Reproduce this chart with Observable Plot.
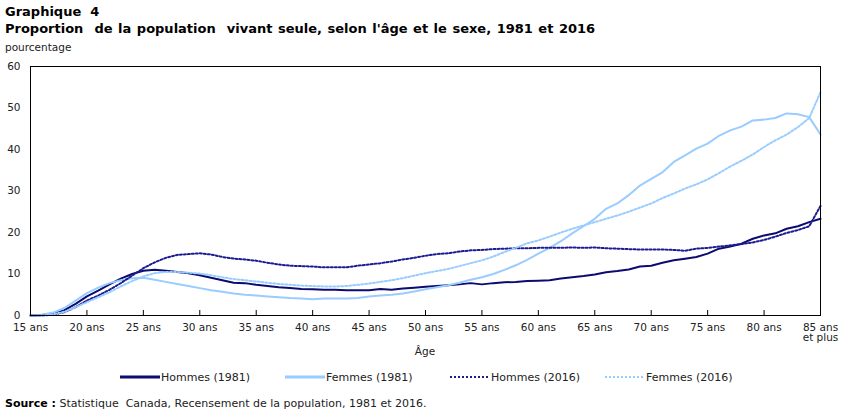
<!DOCTYPE html>
<html><head><meta charset="utf-8">
<script src="https://cdn.jsdelivr.net/npm/d3@7"></script>
<script src="https://cdn.jsdelivr.net/npm/@observablehq/plot@0.6"></script>
<style>
body{margin:0;background:#fff;font-family:"DejaVu Sans",Verdana,sans-serif;color:#000;}
#wrap{position:relative;width:850px;height:416px;overflow:hidden;background:#fff;}
.abs{position:absolute;white-space:nowrap;}
#chart{position:absolute;left:0;top:54px;}
.leg{position:absolute;top:370px;font-size:11px;color:#222;display:flex;align-items:center;white-space:nowrap;}
.leg svg{margin-right:1px;}
</style></head><body>
<div id="wrap">
  <div class="abs" style="left:5px;top:4px;font-weight:bold;font-size:13px;">Graphique&nbsp; 4</div>
  <div class="abs" style="left:5px;top:21px;font-weight:bold;font-size:13px;word-spacing:1px;">Proportion&nbsp; de la population&nbsp; vivant seule, selon l'âge et le sexe, 1981 et 2016</div>
  <div class="abs" style="left:5px;top:41px;font-size:10.5px;color:#222;">pourcentage</div>
  <div id="chart"></div>
  <div class="abs" style="left:0;width:850px;top:345px;text-align:center;font-size:10.5px;color:#222;">Âge</div>
  <div id="legend"></div>
  <div class="abs" style="left:5px;top:397px;font-size:11px;color:#222;"><b style="color:#000">Source&nbsp;:</b> Statistique&nbsp; Canada, Recensement de la population, 1981 et 2016.</div>
</div>
<script>
const ages = [15,16,17,18,19,20,21,22,23,24,25,26,27,28,29,30,31,32,33,34,35,36,37,38,39,40,41,42,43,44,45,46,47,48,49,50,51,52,53,54,55,56,57,58,59,60,61,62,63,64,65,66,67,68,69,70,71,72,73,74,75,76,77,78,79,80,81,82,83,84,85];

const hommes1981 = [0,0.1,0.4,1.3,2.8,4.6,6.0,7.5,8.9,10.0,10.8,11.0,10.8,10.5,10.2,9.7,9.1,8.5,7.9,7.8,7.4,7.1,6.8,6.6,6.4,6.3,6.2,6.2,6.1,6.1,6.1,6.4,6.2,6.5,6.7,6.9,7.1,7.3,7.5,7.8,7.5,7.8,8.0,8.1,8.3,8.4,8.5,8.9,9.2,9.5,9.9,10.4,10.7,11.1,11.8,12.0,12.7,13.3,13.7,14.1,14.9,16.1,16.6,17.3,18.5,19.3,19.8,20.9,21.5,22.5,23.3];

const femmes1981 = [0,0.2,0.7,1.8,3.6,5.4,6.7,7.8,8.5,9.0,9.1,8.6,8.1,7.6,7.1,6.6,6.1,5.7,5.3,5.0,4.8,4.6,4.4,4.2,4.1,3.9,4.1,4.1,4.1,4.2,4.6,4.8,5.0,5.3,5.8,6.3,6.8,7.3,7.9,8.6,9.2,10.0,11.0,12.1,13.4,14.9,16.3,17.9,19.8,21.5,23.3,25.7,27.0,29.0,31.3,32.9,34.5,37.0,38.6,40.2,41.4,43.3,44.6,45.5,47.0,47.2,47.6,48.7,48.5,47.8,43.6];

const hommes2016 = [0,0,0.2,0.8,2.0,3.6,4.8,6.2,7.8,9.6,11.4,12.8,13.9,14.6,14.8,15.0,14.7,14.1,13.7,13.5,13.2,12.7,12.3,12.0,11.9,11.8,11.6,11.6,11.6,12.0,12.3,12.6,13.0,13.5,13.9,14.4,14.8,15.0,15.4,15.7,15.8,16.0,16.1,16.2,16.2,16.3,16.3,16.3,16.4,16.3,16.4,16.2,16.1,16.0,15.9,15.9,15.9,15.8,15.6,16.1,16.3,16.6,16.9,17.2,17.6,18.2,19.0,19.9,20.6,21.5,26.4];

const femmes2016 = [0,0,0.3,0.9,2.0,3.2,4.4,5.6,7.0,8.3,9.4,10.2,10.5,10.5,10.3,10.1,9.7,9.2,8.8,8.5,8.2,7.9,7.6,7.4,7.2,7.1,7.0,7.0,7.1,7.4,7.7,8.1,8.5,9.0,9.6,10.2,10.7,11.2,11.9,12.6,13.3,14.2,15.3,16.3,17.4,18.1,19.0,20.0,20.9,21.7,22.5,23.3,24.1,25.0,26.0,27.0,28.3,29.4,30.6,31.6,32.8,34.3,35.9,37.3,38.8,40.6,42.2,43.6,45.4,47.6,53.8];

const seriesNames = ["Hommes (1981)", "Femmes (1981)", "Hommes (2016)", "Femmes (2016)"];
const xTickAges = [15,20,25,30,35,40,45,50,55,60,65,70,75,80,85];
const xTickLabels = ["15 ans","20 ans","25 ans","30 ans","35 ans","40 ans","45 ans","50 ans","55 ans","60 ans","65 ans","70 ans","75 ans","80 ans","85 ans\net plus"];
const yTicks = [0,10,20,30,40,50,60];

const styles = [
  {stroke:"#0b0b70", dash:null, width:2, legW:3},
  {stroke:"#99ccff", dash:null, width:2, legW:3},
  {stroke:"#1c1c92", dash:"2,2", width:2, legW:2},
  {stroke:"#99ccff", dash:"2,2", width:2, legW:2}
];
const allValues = [hommes1981, femmes1981, hommes2016, femmes2016];
const tables = allValues.map((vals, k) => ages.map((a, i) => ({age: a, value: vals[i], series: seriesNames[k]})));

const H = 310, MT = 12, MB = 49;
const chart = Plot.plot({
  width: 850, height: H,
  marginTop: MT, marginBottom: MB, marginLeft: 30, marginRight: 30,
  style: {fontFamily: "'DejaVu Sans', Verdana, sans-serif", fontSize: "10.5px", color: "#222", background: "white", overflow: "visible"},
  x: {domain: [15, 85], label: null},
  y: {domain: [0, 60], label: null},
  marks: [
    Plot.axisX({ticks: xTickAges, tickFormat: d => xTickLabels[xTickAges.indexOf(d)], tickSize: 0, tickPadding: 8, label: null}),
    Plot.axisY({ticks: yTicks, tickSize: 0, tickPadding: 10, label: null}),
    Plot.tickX(xTickAges, {x: d => d, stroke: "#000", insetTop: H - MT - MB - 5}),
    ...tables.map((t, k) => Plot.line(t, {x: "age", y: "value", stroke: styles[k].stroke, strokeWidth: styles[k].width, strokeDasharray: styles[k].dash, curve: "linear"})),
    Plot.frame({stroke: "#000", strokeWidth: 1})
  ]
});
document.getElementById("chart").appendChild(chart);

// legend
const legLefts = [120, 285, 450, 605];
const legend = document.getElementById("legend");
seriesNames.forEach((name, k) => {
  const d = document.createElement("div");
  d.className = "leg";
  d.style.left = legLefts[k] + "px";
  const s = styles[k];
  d.innerHTML = `<svg width="40" height="14"><line x1="0" x2="40" y1="7" y2="7" stroke="${s.stroke}" stroke-width="${s.legW}" ${s.dash ? `stroke-dasharray="${s.dash}"` : ""}/></svg><span>${name}</span>`;
  legend.appendChild(d);
});
</script>
</body></html>
